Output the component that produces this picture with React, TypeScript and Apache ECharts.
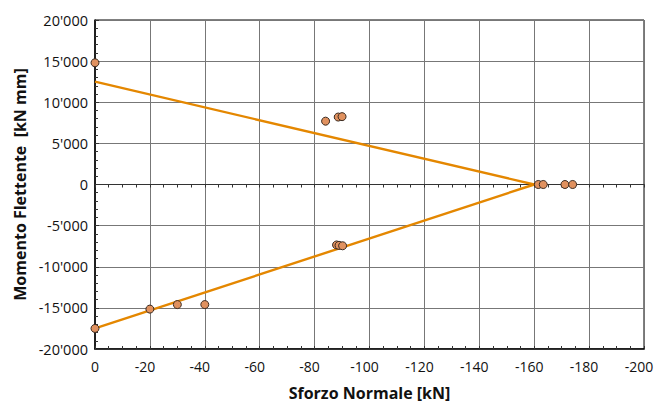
import React, { useEffect, useRef } from "react";
import * as echarts from "echarts";

const pointN = [0, -84, -88.6, -90, -161.5, -163.3, -171.2, -174, -88, -88.9, -90.2, 0, -20, -30, -40];
const pointM = [14800, 7700, 8200, 8250, 0, 0, 0, 0, -7350, -7400, -7450, -17500, -15150, -14600, -14600];
const upperLineN = [0, -160];
const upperLineM = [12500, 0];
const lowerLineN = [0, -160];
const lowerLineM = [-17500, 0];

const xTitle = "Sforzo Normale [kN]";
const yTitle = "Momento Flettente  [kN mm]";

const fmtThousands = (v: number) => {
  const s = Math.abs(v).toString().replace(/\B(?=(\d{3})+(?!\d))/g, "'");
  return (v < 0 ? "-" : "") + s;
};

const FONT = "'Open Sans', 'Noto Sans', sans-serif";

export default function App() {
  const ref = useRef<HTMLDivElement>(null);
  useEffect(() => {
    if (!ref.current) return;
    const chart = echarts.init(ref.current, undefined, { renderer: "svg" });
    const zeroAxisBase = {
      type: "value",
      min: -200,
      max: 0,
      interval: 5,
      inverse: true,
      axisLine: { show: true, onZero: true, lineStyle: { color: "#333", width: 1 } },
      axisLabel: { show: false },
      splitLine: { show: false },
    };
    const labelStyle = { fontFamily: FONT, fontSize: 14, color: "#111" };
    chart.setOption({
      animation: false,
      grid: {
        left: 95,
        right: 11,
        top: 20,
        bottom: 54,
        show: true,
        borderColor: "#000",
        borderWidth: 1,
        outerBoundsMode: "none",
        containLabel: false,
      },
      xAxis: [
        {
          type: "value",
          min: -200,
          max: 0,
          interval: 20,
          inverse: true,
          position: "bottom",
          name: xTitle,
          nameLocation: "middle",
          nameGap: 36,
          nameTextStyle: { fontFamily: FONT, fontSize: 16, fontWeight: "bold", color: "#111" },
          axisLine: { show: true, onZero: false, lineStyle: { color: "#000", width: 1.5 } },
          axisTick: { show: false },
          axisLabel: {
            ...labelStyle,
            margin: 10,
            formatter: (v: number) => (v < 0 ? "{n|" + v + "}" : "{z|" + v + "}"),
            rich: {
              n: { ...labelStyle, padding: [0, 10, 0, 0] },
              z: { ...labelStyle },
            },
          },
          splitLine: { show: true, lineStyle: { color: "#777", width: 1 } },
        },
        {
          ...zeroAxisBase,
          position: "bottom",
          axisTick: { show: true, inside: false, length: 3, lineStyle: { color: "#333" } },
        },
        {
          ...zeroAxisBase,
          position: "bottom",
          axisTick: { show: true, inside: true, length: 3, lineStyle: { color: "#333" } },
        },
      ],
      yAxis: {
        type: "value",
        min: -20000,
        max: 20000,
        interval: 5000,
        name: yTitle,
        nameLocation: "middle",
        nameGap: 67,
        nameTextStyle: { fontFamily: FONT, fontSize: 16, fontWeight: "bold", color: "#111" },
        axisLine: { show: true, onZero: false, lineStyle: { color: "#000", width: 1.5 } },
        axisTick: { show: true, inside: true, length: 4, lineStyle: { color: "#333" } },
        minorTick: { show: true, splitNumber: 5, length: 3, lineStyle: { color: "#333" } },
        axisLabel: {
          fontFamily: FONT,
          fontSize: 14.5,
          color: "#111",
          margin: 7,
          formatter: (v: number) => fmtThousands(v),
        },
        splitLine: { show: true, lineStyle: { color: "#777", width: 1 } },
      },
      series: [
        {
          type: "line",
          data: upperLineN.map((n, i) => [n, upperLineM[i]]),
          showSymbol: false,
          symbol: "none",
          lineStyle: { color: "#E48700", width: 2.4 },
          z: 3,
        },
        {
          type: "line",
          data: lowerLineN.map((n, i) => [n, lowerLineM[i]]),
          showSymbol: false,
          symbol: "none",
          lineStyle: { color: "#E48700", width: 2.4 },
          z: 3,
        },
        {
          type: "scatter",
          data: pointN.map((n, i) => [n, pointM[i]]),
          symbol: "circle",
          symbolSize: 8,
          itemStyle: { color: "#E0915F", borderColor: "#3a2a20", borderWidth: 1, opacity: 1 },
          z: 4,
        },
      ],
    });
    return () => chart.dispose();
  }, []);
  return <div ref={ref} style={{ width: 655, height: 403, position: "absolute", left: 0, top: 0 }} />;
}
